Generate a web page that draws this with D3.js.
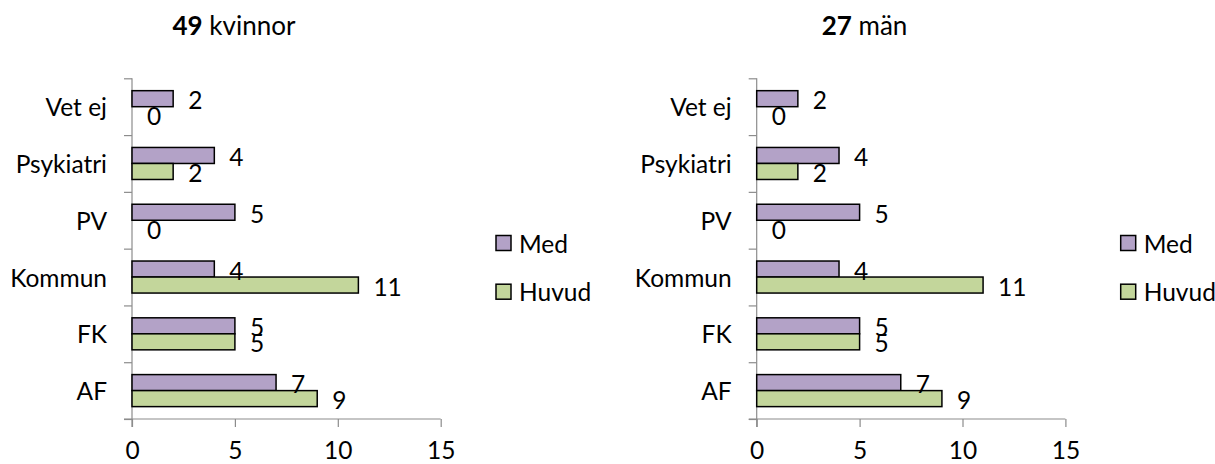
<!DOCTYPE html>
<html>
<head>
<meta charset="utf-8">
<script src="https://cdn.jsdelivr.net/npm/d3@7"></script>
<style>
  html, body { margin: 0; padding: 0; background: #fff; }
  svg { display: block; }
  text { font-family: Lato, "Open Sans", sans-serif; fill: #000; }
</style>
</head>
<body>
<svg id="chart" width="1215" height="464"></svg>
<script>
// ---- data ----
const categories = ["AF", "FK", "Kommun", "PV", "Psykiatri", "Vet ej"];
const seriesNames = ["Med", "Huvud"];
const womenMed   = [7, 5, 4, 5, 4, 2];
const womenHuvud = [9, 5, 11, 0, 2, 0];
const menMed     = [7, 5, 4, 5, 4, 2];
const menHuvud   = [9, 5, 11, 0, 2, 0];
const xTicks = [0, 5, 10, 15];
const titleWomenNum = "49", titleWomenText = " kvinnor";
const titleMenNum = "27", titleMenText = " män";

// ---- styles ----
const colors = { Med: "#B3A2C7", Huvud: "#C3D69B" };
const axisColor = "#8C8C8C";
const fs = 24.5;

const svg = d3.select("#chart");

function drawPanel(opt) {
  const g = svg.append("g");
  const x = d3.scaleLinear().domain([0, 15]).range([opt.x0, opt.x0 + 308.7]);
  const order = categories.slice().reverse();
  const y = d3.scaleBand().domain(order).range([78.3, 419]).padding(0);
  const step = y.step();
  const ys = d3.scaleBand().domain(seriesNames).range([step * 0.218, step * 0.782]).padding(0);

  // y boundary ticks
  const yIdx = d3.scaleLinear().domain([0, categories.length]).range([78.3, 419]);
  const yAxis = d3.axisLeft(yIdx).tickValues(d3.range(categories.length + 1))
    .tickFormat("").tickSize(8).tickSizeOuter(0);
  const ya = g.append("g").attr("transform", `translate(${opt.x0},0)`).call(yAxis);
  ya.selectAll("path, line").attr("stroke", axisColor).attr("stroke-width", 1.2);
  ya.select(".domain").attr("d", `M0,78.3V427`);

  // x axis
  const xAxis = d3.axisBottom(x).tickValues(xTicks).tickSize(8).tickSizeOuter(0);
  const xa = g.append("g").attr("transform", `translate(0,419)`).call(xAxis);
  xa.selectAll("path, line").attr("stroke", axisColor).attr("stroke-width", 1.2);
  xa.select(".domain").attr("d", `M${opt.x0 - 8},0H${x(15)}`);
  xa.selectAll("text").attr("y", 40).attr("dy", 0).style("font-size", fs + "px")
    .style("font-family", "Lato, sans-serif").attr("fill", "#000");

  // category labels
  g.selectAll(".cat").data(order).enter().append("text")
    .attr("x", opt.x0 - 25).attr("y", d => y(d) + step / 2)
    .attr("text-anchor", "end").attr("dominant-baseline", "central")
    .style("font-size", fs + "px").text(d => d);

  // bars
  const rows = [];
  categories.forEach((c, i) => {
    rows.push({ c, s: "Med", v: opt.med[i] });
    rows.push({ c, s: "Huvud", v: opt.huvud[i] });
  });
  g.selectAll(".bar").data(rows).enter().append("rect")
    .attr("x", x(0)).attr("y", d => y(d.c) + ys(d.s))
    .attr("width", d => x(d.v) - x(0)).attr("height", ys.bandwidth())
    .attr("fill", d => colors[d.s])
    .attr("stroke", d => d.v > 0 ? "#000" : "none").attr("stroke-width", 1.5);

  g.selectAll(".val").data(rows).enter().append("text")
    .attr("x", d => x(d.v) + 15).attr("y", d => y(d.c) + ys(d.s) + ys.bandwidth() / 2 + 1)
    .attr("dominant-baseline", "central").style("font-size", fs + "px").text(d => d.v);

  // title
  const t = g.append("text").attr("x", opt.titleX).attr("y", 35).attr("text-anchor", "middle")
    .style("font-size", "26px");
  t.append("tspan").style("font-weight", "bold").text(opt.tNum);
  t.append("tspan").text(opt.tText);

  // legend
  const lg = g.append("g");
  seriesNames.forEach((s, i) => {
    const cy = 243 + i * 48.7;
    lg.append("rect").attr("x", opt.x0 + 364).attr("y", cy - 7.5).attr("width", 15).attr("height", 15)
      .attr("fill", colors[s]).attr("stroke", "#000").attr("stroke-width", 1.5);
    lg.append("text").attr("x", opt.x0 + 387).attr("y", cy).attr("dominant-baseline", "central")
      .style("font-size", fs + "px").text(s);
  });
}

drawPanel({ x0: 132, med: womenMed, huvud: womenHuvud, titleX: 234, tNum: titleWomenNum, tText: titleWomenText });
drawPanel({ x0: 756.7, med: menMed, huvud: menHuvud, titleX: 864.5, tNum: titleMenNum, tText: titleMenText });
</script>
</body>
</html>
